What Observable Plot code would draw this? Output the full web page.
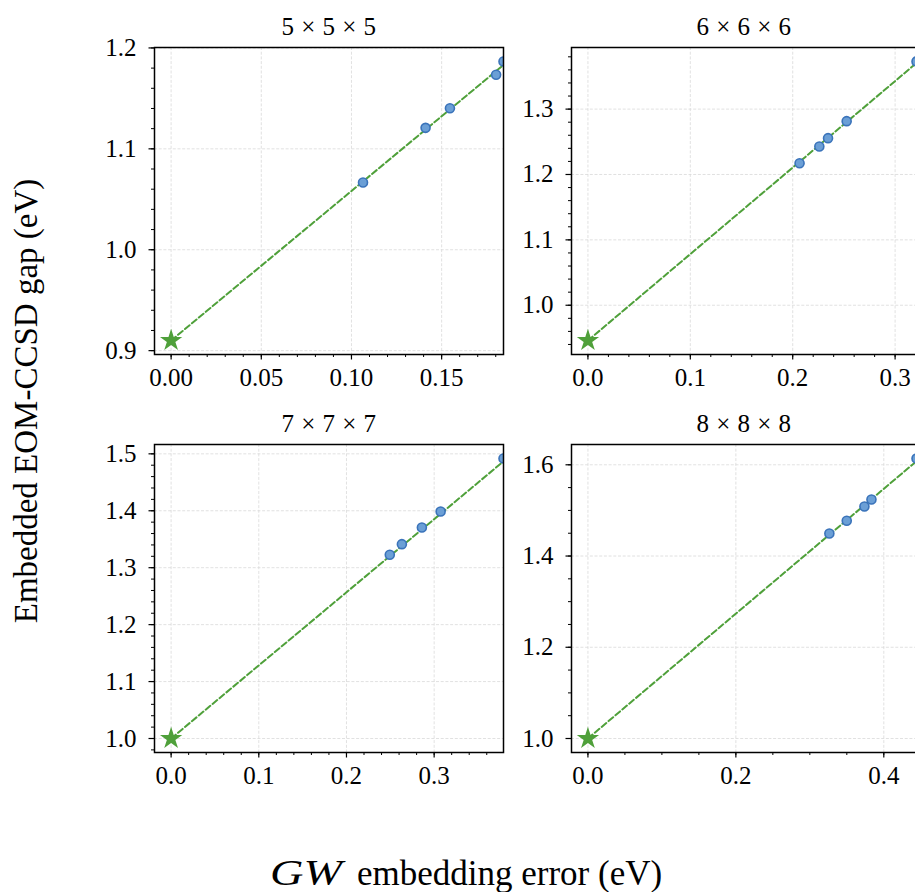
<!DOCTYPE html>
<html><head><meta charset="utf-8">
<script src="https://cdn.jsdelivr.net/npm/d3@7"></script>
<script src="https://cdn.jsdelivr.net/npm/@observablehq/plot@0.6"></script>
<style>
html,body{margin:0;padding:0;background:#fff;overflow:hidden}
#fig{position:relative;width:915px;height:892px;overflow:hidden;font-family:"Liberation Serif","Times New Roman",serif}
#fig > svg{position:absolute;max-width:none}
#fig svg text{font-family:"Liberation Serif","Times New Roman",serif}
</style></head><body><div id="fig"></div>
<script>
// ---- data ----
const titles = ["5 × 5 × 5", "6 × 6 × 6", "7 × 7 × 7", "8 × 8 × 8"];
const gwError5 = [0.1064, 0.1411, 0.1546, 0.1802, 0.1843];
const gap5     = [1.0666, 1.1208, 1.1402, 1.1734, 1.1866];
const gwError6 = [0.2067, 0.2260, 0.2345, 0.2527, 0.3209];
const gap6     = [1.2173, 1.2428, 1.2556, 1.2816, 1.3729];
const gwError7 = [0.2494, 0.2632, 0.2860, 0.3074, 0.3791];
const gap7     = [1.3228, 1.3414, 1.3707, 1.3988, 1.4918];
const gwError8 = [0.3264, 0.3499, 0.3738, 0.3833, 0.4442];
const gap8     = [1.4493, 1.4772, 1.5086, 1.5239, 1.6138];
const referenceGap = [0.910, 0.946, 1.000, 1.000];          // star at zero GW error
const fitEndX = [0.1846, 0.3209, 0.3791, 0.4442];            // dashed fit line end
const fitEndY = [1.1836, 1.3705, 1.4868, 1.6079];
const xMajorTicks = [[0, 0.05, 0.10, 0.15], [0, 0.1, 0.2, 0.3], [0, 0.1, 0.2, 0.3], [0, 0.2, 0.4]];
const yMajorTicks = [[0.9, 1.0, 1.1, 1.2], [1.0, 1.1, 1.2, 1.3], [1.0, 1.1, 1.2, 1.3, 1.4, 1.5], [1.0, 1.2, 1.4, 1.6]];
const xTickFormats = [".2f", ".1f", ".1f", ".1f"];
const xMinorStep = [0.01, 0.02, 0.02, 0.05];
const yMinorStep = [0.02, 0.02, 0.02, 0.05];
const xLabel = "embedding error (eV)";
const xLabelItalic = "GW";
const yLabel = "Embedded EOM-CCSD gap (eV)";

const errors = [gwError5, gwError6, gwError7, gwError8];
const gaps = [gap5, gap6, gap7, gap8];

// ---- layout ----
const frames = [
  {l: 154, t: 47, r: 503, b: 354},
  {l: 571, t: 47, r: 916, b: 354},
  {l: 154, t: 443.5, r: 503, b: 751.5},
  {l: 571, t: 443.5, r: 916, b: 751.5}
];
const ML = 80, MR = 6, MT = 45, MB = 45;
const FS = 25;
const green = "#4fa03a";
const font = "'Liberation Serif','Times New Roman',serif";
const fig = document.getElementById("fig");

function minorTicks(dom, step) {
  const out = [];
  const start = Math.ceil(dom[0] / step - 1e-9);
  for (let k = start; k * step <= dom[1] + 1e-9; k++) out.push(+(k * step).toFixed(6));
  return out;
}

for (let i = 0; i < 4; i++) {
  const f = frames[i];
  const pts = errors[i].map((x, j) => ({x, y: gaps[i][j]}));
  const xmax = d3.max(errors[i]);
  const xdom = [-0.05 * xmax, xmax];
  const ylo = Math.min(referenceGap[i], d3.min(gaps[i]));
  const yhi = d3.max(gaps[i]);
  const pad = 0.05 * (yhi - ylo);
  const ydom = [ylo - pad, yhi + pad];
  const fit = [{x: 0, y: referenceGap[i]}, {x: fitEndX[i], y: fitEndY[i]}];
  const gridStyle = {stroke: "#d9d9d9", strokeOpacity: 1, strokeWidth: 0.8, strokeDasharray: "3,1.7"};

  const svg = Plot.plot({
    width: (f.r - f.l) + ML + MR,
    height: (f.b - f.t) + MT + MB,
    marginLeft: ML, marginRight: MR, marginTop: MT, marginBottom: MB,
    style: `font-family: ${font}; font-size: ${FS}px; background: transparent; color: #000; overflow: visible;`,
    x: {domain: xdom},
    y: {domain: ydom},
    marks: [
      Plot.gridX({ticks: xMajorTicks[i], ...gridStyle}),
      Plot.gridY({ticks: yMajorTicks[i], ...gridStyle}),
      Plot.line(fit, {x: "x", y: "y", stroke: green, strokeWidth: 2, strokeDasharray: "6,3", clip: true}),
      Plot.dot(pts, {x: "x", y: "y", r: 4.5, fill: "#6b9fd6", stroke: "#3a73ba", strokeWidth: 1.6, clip: true}),
      Plot.dot([{x: 0, y: referenceGap[i]}], {x: "x", y: "y", symbol: "star", r: 7, fill: green, stroke: "none"}),
      Plot.frame({stroke: "#000", strokeWidth: 1.5}),
      Plot.axisX({ticks: minorTicks(xdom, xMinorStep[i]), tickSize: 3, text: null, label: null, strokeWidth: 1}),
      Plot.axisY({ticks: minorTicks(ydom, yMinorStep[i]), tickSize: 3, text: null, label: null, strokeWidth: 1}),
      Plot.axisX({ticks: xMajorTicks[i], tickSize: 5.5, tickPadding: 8.5, tickFormat: d3.format(xTickFormats[i]), label: null, fontSize: FS, strokeWidth: 1.2}),
      Plot.axisY({ticks: yMajorTicks[i], tickSize: 5.5, tickPadding: 12.5, tickFormat: d3.format(".1f"), label: null, fontSize: FS, strokeWidth: 1.2}),
      Plot.text([titles[i]], {text: d => d, frameAnchor: "top", dy: -12.7, lineAnchor: "bottom", fontSize: FS})
    ]
  });
  svg.style.left = (f.l - ML) + "px";
  svg.style.top = (f.t - MT) + "px";
  // widen the title a little, like the mathtext spacing of the reference
  svg.querySelectorAll("text").forEach(t => { if (t.textContent.includes("×")) t.setAttribute("letter-spacing", "0.5px"); });
  fig.appendChild(svg);
}

// ---- shared axis labels ----
const ov = d3.select(fig).append("svg")
  .attr("width", 915).attr("height", 892)
  .style("left", "0px").style("top", "0px")
  .style("font-family", font);
ov.append("text")
  .attr("transform", "translate(37,401) rotate(-90)")
  .attr("text-anchor", "middle")
  .attr("font-size", 33)
  .text(yLabel);
const xt = ov.append("text")
  .attr("y", 885)
  .attr("text-anchor", "start")
  .attr("font-size", 35);
xt.append("tspan").attr("x", 270).attr("font-style", "italic").attr("font-size", 36)
  .attr("textLength", 72).attr("lengthAdjust", "spacingAndGlyphs").text(xLabelItalic);
xt.append("tspan").attr("x", 357).text(xLabel);
</script>
</body></html>
